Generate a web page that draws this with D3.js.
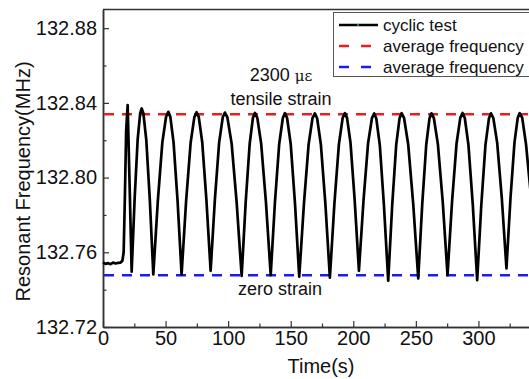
<!DOCTYPE html>
<html>
<head>
<meta charset="utf-8">
<script src="https://cdn.jsdelivr.net/npm/d3@7"></script>
<style>
  body { margin: 0; background: #fff; }
  svg { display: block; font-family: "Liberation Sans", Arial, sans-serif; }
</style>
</head>
<body>
<div id="chart"></div>
<script>
// time (s) of the cyclic test trace
const timeS = [
  0, 2, 4, 6, 8, 10, 12, 14, 15.5, 16.5, 17.5, 18.5, 19.7, 21.3, 22.9,
  25.3, 27.7, 29.7, 30.9, 32.3, 34.6, 37.4, 40.2,
  43.8, 47.4, 50.4, 52.2, 53.8, 56.4, 59.6, 62.8,
  66.4, 70.0, 73.0, 74.8, 76.5, 79.3, 82.6, 86.0,
  89.4, 92.8, 95.7, 97.4, 99.4, 102.8, 106.8, 110.8,
  114.0, 117.2, 119.8, 121.4, 123.3, 126.4, 130.2, 134.0,
  137.4, 140.8, 143.7, 145.4, 147.1, 150.0, 153.4, 156.8,
  160.6, 164.3, 167.4, 169.3, 171.1, 174.1, 177.7, 181.3,
  184.9, 188.5, 191.5, 193.3, 195.0, 197.8, 201.1, 204.5,
  208.2, 211.8, 214.9, 216.7, 218.4, 221.2, 224.5, 227.9,
  231.1, 234.3, 237.0, 238.6, 240.6, 243.9, 247.9, 251.9,
  255.1, 258.3, 260.9, 262.5, 264.4, 267.6, 271.5, 275.3,
  278.9, 282.5, 285.5, 287.3, 289.1, 292.0, 295.5, 299.0,
  302.3, 305.6, 308.4, 310.0, 311.9, 315.0, 318.7, 322.4,
  325.6, 328.8, 331.4, 333.0, 335.0, 338.0, 342.0
];

// resonant frequency (MHz)
const freqMHz = [
  132.7545, 132.7538, 132.7542, 132.7536, 132.7545, 132.7540, 132.7543, 132.7545, 132.7555, 132.7600, 132.7900, 132.8250, 132.8388, 132.7950, 132.7496,
  132.7889, 132.8204, 132.8344, 132.8370, 132.8343, 132.8201, 132.7882, 132.7482,
  132.7874, 132.8187, 132.8326, 132.8352, 132.8326, 132.8187, 132.7874, 132.7482,
  132.7873, 132.8185, 132.8324, 132.8350, 132.8325, 132.8189, 132.7883, 132.7501,
  132.7882, 132.8187, 132.8323, 132.8348, 132.8322, 132.8182, 132.7867, 132.7473,
  132.7866, 132.8180, 132.8320, 132.8346, 132.8320, 132.8181, 132.7869, 132.7478,
  132.7868, 132.8180, 132.8319, 132.8345, 132.8319, 132.8179, 132.7863, 132.7469,
  132.7863, 132.8178, 132.8318, 132.8344, 132.8318, 132.8177, 132.7860, 132.7464,
  132.7860, 132.8178, 132.8319, 132.8345, 132.8320, 132.8185, 132.7881, 132.7501,
  132.7880, 132.8183, 132.8318, 132.8343, 132.8316, 132.8173, 132.7851, 132.7448,
  132.7852, 132.8175, 132.8318, 132.8345, 132.8318, 132.8177, 132.7858, 132.7460,
  132.7858, 132.8176, 132.8317, 132.8344, 132.8318, 132.8179, 132.7868, 132.7478,
  132.7869, 132.8181, 132.8320, 132.8346, 132.8319, 132.8176, 132.7854, 132.7451,
  132.7853, 132.8174, 132.8317, 132.8344, 132.8319, 132.8186, 132.7888, 132.7514,
  132.7888, 132.8187, 132.8320, 132.8345, 132.8320, 132.8180, 132.7900
];

const tensileAvg = 132.8339;
const zeroAvg = 132.7477;

const xTicks = [0, 50, 100, 150, 200, 250, 300];
const xMinor = [25, 75, 125, 175, 225, 275, 325];
const yTicks = [132.72, 132.76, 132.80, 132.84, 132.88];
const yMinor = [132.74, 132.78, 132.82, 132.86];

const legendLabels = ["cyclic test", "average frequency", "average frequency"];
const legendColors = ["#000", "#ee1c1c", "#1c1cee"];

const width = 529, height = 379;
const svg = d3.select("#chart").append("svg").attr("width", width).attr("height", height);

const x = d3.scaleLinear().domain([0, 350]).range([103, 541]);
const y = d3.scaleLinear().domain([132.72, 132.89]).range([327, 9.5]);

const axisColor = "#333";

// frame (top line; right side is off the page)
svg.append("line").attr("x1", x(0)).attr("x2", width).attr("y1", y(132.89)).attr("y2", y(132.89))
  .attr("stroke", axisColor).attr("stroke-width", 1.5);

const styleAxis = g => {
  g.select(".domain").attr("stroke", axisColor).attr("stroke-width", 1.5);
  g.selectAll(".tick line").attr("stroke", axisColor).attr("stroke-width", 1.2);
  g.selectAll("text").attr("fill", "#111").attr("font-size", 20)
    .attr("font-family", "'Liberation Sans', Arial, sans-serif");
};

svg.append("g").attr("transform", `translate(0,${y(132.72)})`)
  .call(d3.axisBottom(x).tickValues(xTicks).tickSizeInner(-6).tickSizeOuter(0).tickPadding(4).tickFormat(d3.format("d")))
  .call(styleAxis);
svg.append("g").attr("transform", `translate(0,${y(132.72)})`)
  .call(d3.axisBottom(x).tickValues(xMinor).tickSizeInner(-3.5).tickSizeOuter(0).tickFormat(""))
  .call(styleAxis);

svg.append("g").attr("transform", `translate(${x(0)},0)`)
  .call(d3.axisLeft(y).tickValues(yTicks).tickSizeInner(-6).tickSizeOuter(0).tickPadding(6).tickFormat(d3.format(".2f")))
  .call(styleAxis);
svg.append("g").attr("transform", `translate(${x(0)},0)`)
  .call(d3.axisLeft(y).tickValues(yMinor).tickSizeInner(-3.5).tickSizeOuter(0).tickFormat(""))
  .call(styleAxis);

// average lines
[[tensileAvg, legendColors[1]], [zeroAvg, legendColors[2]]].forEach(([v, c]) => {
  svg.append("line").attr("x1", x(0) + 1).attr("x2", width).attr("y1", y(v)).attr("y2", y(v))
    .attr("stroke", c).attr("stroke-width", 2.5).attr("stroke-dasharray", "10,8");
});

// cyclic test trace
const pts = timeS.map((t, i) => [t, freqMHz[i]]);
const line = d3.line().x(d => x(d[0])).y(d => y(d[1]));
svg.append("path").datum(pts).attr("fill", "none").attr("stroke", "#000")
  .attr("stroke-width", 2.7).attr("stroke-linejoin", "round").attr("d", line);

// annotations
const ann = svg.append("g").attr("fill", "#111").attr("font-size", 18).attr("text-anchor", "middle");
const t1 = ann.append("text").attr("x", 281).attr("y", 81);
t1.append("tspan").text("2300 ");
t1.append("tspan").attr("font-family", "'DejaVu Serif', serif").attr("font-size", 15).text("με");
ann.append("text").attr("x", 281).attr("y", 105).text("tensile strain");
ann.append("text").attr("x", 280).attr("y", 295).text("zero strain");

// axis titles
svg.append("text").attr("transform", "translate(30,181.5) rotate(-90)").attr("text-anchor", "middle")
  .attr("font-size", 20).attr("fill", "#111").text("Resonant Frequency(MHz)");
svg.append("text").attr("x", 321).attr("y", 373).attr("text-anchor", "middle")
  .attr("font-size", 20).attr("fill", "#111").text("Time(s)");

// legend
const lg = svg.append("g");
lg.append("rect").attr("x", 333.5).attr("y", 12.5).attr("width", 210).attr("height", 64)
  .attr("fill", "#fff").attr("stroke", "#555").attr("stroke-width", 1);
const rowsY = [25, 46, 67];
legendLabels.forEach((lab, i) => {
  const ln = lg.append("line").attr("x1", 339).attr("x2", i > 0 ? 373 : 378).attr("y1", rowsY[i]).attr("y2", rowsY[i])
    .attr("stroke", legendColors[i]).attr("stroke-width", 2.5);
  if (i > 0) ln.attr("stroke-dasharray", "10,12");
  lg.append("text").attr("x", 383).attr("y", rowsY[i]).attr("dy", "0.35em")
    .attr("font-size", 17).attr("fill", "#111").text(lab);
});
lg.append("rect").attr("x", 357).attr("y", rowsY[0] - 1).attr("width", 2).attr("height", 2).attr("fill", "#2a8a2a");
</script>
</body>
</html>
